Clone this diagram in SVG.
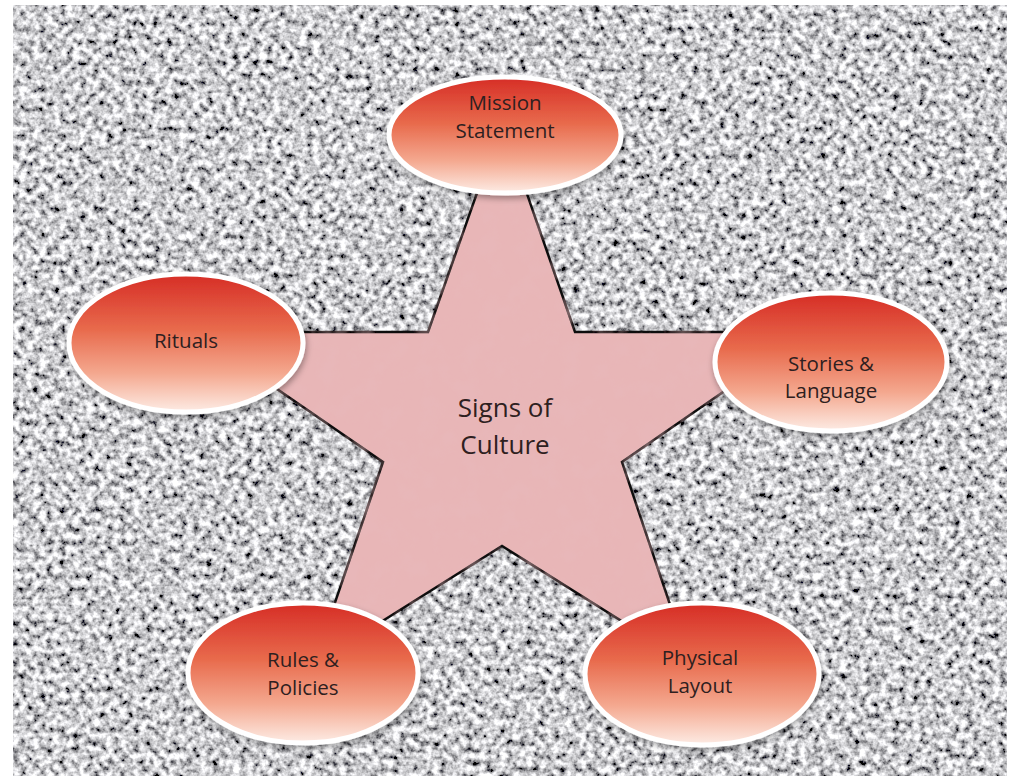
<svg xmlns="http://www.w3.org/2000/svg" width="1022" height="776" viewBox="0 0 1022 776">
  <style>
    .lbl { font-family: "Open Sans", "Noto Sans", "Liberation Sans", sans-serif; font-size: 20.5px; fill: #2e2020; text-anchor: middle; }
    .big { font-size: 26px; }
    .oval { fill: url(#ovalGrad); stroke: #ffffff; stroke-width: 5; filter: url(#shadow); }
  </style>
  <defs>
    <linearGradient id="ovalGrad" x1="0" y1="0" x2="0" y2="1">
      <stop offset="0" stop-color="#d62d26"/>
      <stop offset="0.4" stop-color="#e86a4c"/>
      <stop offset="0.72" stop-color="#f4a88f"/>
      <stop offset="1" stop-color="#fdece5"/>
    </linearGradient>
    <filter id="granite" x="0" y="0" width="1" height="1">
      <feTurbulence type="fractalNoise" baseFrequency="0.15" numOctaves="3" seed="7" result="n"/>
      <feColorMatrix in="n" type="matrix" values="2.1 0 0 0 -0.45  2.1 0 0 0 -0.45  2.12 0 0 0 -0.44  0 0 0 0 1" result="g"/>
      <feGaussianBlur in="g" stdDeviation="0.6"/>
    </filter>
    <filter id="pinkTex" x="0" y="0" width="1" height="1">
      <feTurbulence type="fractalNoise" baseFrequency="0.05" numOctaves="3" seed="2" result="n"/>
      <feColorMatrix in="n" type="matrix" values="0 0 0 0 0.80  0 0 0 0 0.50  0 0 0 0 0.52  0.6 0 0 0 -0.25" result="c"/>
      <feComposite in="c" in2="SourceGraphic" operator="in" result="t"/>
      <feMerge><feMergeNode in="SourceGraphic"/><feMergeNode in="t"/></feMerge>
    </filter>
    <filter id="shadow" x="-10%" y="-10%" width="120%" height="130%">
      <feDropShadow dx="1" dy="3" stdDeviation="3" flood-color="#000" flood-opacity="0.35"/>
    </filter>
  </defs>

  <rect x="0" y="0" width="1022" height="776" fill="#ffffff"/>
  <rect x="13" y="5" width="994" height="771" fill="#a8a8a8" filter="url(#granite)"/>

  <g id="star">
    <polygon points="502,122 575,332 810,332 622,462 690,664 502,546 314,664 383,462 194,332 428,332"
             fill="#e8b6b7" stroke="#111" stroke-width="2.5" stroke-linejoin="miter" filter="url(#pinkTex)"/>
    <text class="lbl big" x="505" y="417">Signs of</text>
    <text class="lbl big" x="505" y="454">Culture</text>
  </g>

  <g id="mission">
    <ellipse class="oval" cx="505" cy="135" rx="116" ry="58"/>
    <text class="lbl" x="505" y="110">Mission</text>
    <text class="lbl" x="505" y="138">Statement</text>
  </g>

  <g id="rituals">
    <ellipse class="oval" cx="186" cy="343" rx="117" ry="69"/>
    <text class="lbl" x="186" y="348">Rituals</text>
  </g>

  <g id="stories">
    <ellipse class="oval" cx="831" cy="362" rx="116" ry="69"/>
    <text class="lbl" x="831" y="371">Stories &amp;</text>
    <text class="lbl" x="831" y="398">Language</text>
  </g>

  <g id="rules">
    <ellipse class="oval" cx="303" cy="673" rx="115" ry="70"/>
    <text class="lbl" x="303" y="667">Rules &amp;</text>
    <text class="lbl" x="303" y="695">Policies</text>
  </g>

  <g id="physical">
    <ellipse class="oval" cx="702" cy="674" rx="117" ry="71"/>
    <text class="lbl" x="700" y="665">Physical</text>
    <text class="lbl" x="700" y="693">Layout</text>
  </g>
</svg>
